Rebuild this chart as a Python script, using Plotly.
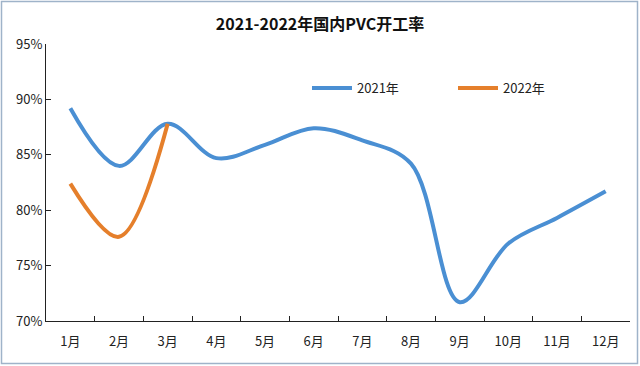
import plotly.graph_objects as go

months = ["1月", "2月", "3月", "4月", "5月", "6月", "7月", "8月", "9月", "10月", "11月", "12月"]
rate_2021 = [89.2, 84.0, 87.8, 84.7, 85.9, 87.4, 86.3, 84.2, 71.7, 77.0, 79.3, 81.7]
months_2022 = ["1月", "2月", "3月"]
rate_2022 = [82.4, 77.6, 87.8]
y_ticks = [70, 75, 80, 85, 90, 95]
y_labels = ["70%", "75%", "80%", "85%", "90%", "95%"]

W, H = 640, 366
ML, MR, MT, MB = 46, 10, 44, 45
pw, ph = W - ML - MR, H - MT - MB

font = "Noto Sans CJK SC"

fig = go.Figure()
fig.add_trace(go.Scatter(x=months, y=rate_2021, name="2021年", mode="lines",
                         line=dict(color="#4a8fd3", width=4, shape="spline", smoothing=1.0)))
fig.add_trace(go.Scatter(x=months_2022, y=rate_2022, name="2022年", mode="lines",
                         line=dict(color="#e57f2b", width=4, shape="spline", smoothing=1.0)))

fig.update_layout(
    width=W, height=H,
    margin=dict(l=ML, r=MR, t=MT, b=MB),
    paper_bgcolor="white", plot_bgcolor="white",
    font=dict(family=font, size=13, color="#222222"),
    title=dict(text="<b>2021-2022年国内PVC开工率</b>", x=0.5, xanchor="center",
               y=1 - 24 / H, yanchor="middle",
               font=dict(family=font, size=16, color="#111111")),
    showlegend=True,
    legend=dict(orientation="h", x=(307 - ML) / pw, xanchor="left",
                y=1 - (88 - MT) / ph, yanchor="middle",
                bgcolor="rgba(0,0,0,0)", font=dict(size=13, color="#222222"),
                entrywidth=91, entrywidthmode="pixels", itemwidth=40),
    xaxis=dict(type="category", categoryorder="array", categoryarray=months,
               range=[-0.5, 11.5], tickson="boundaries", ticks="inside", ticklen=5,
               tickcolor="#222222", showline=True, linecolor="#222222", linewidth=1,
               showgrid=False, zeroline=False, tickfont=dict(size=13), ticklabelstandoff=8),
    yaxis=dict(range=[70, 95], tickvals=y_ticks, ticktext=y_labels, ticks="inside",
               ticklen=5, tickcolor="#222222", showline=True, linecolor="#222222",
               linewidth=1, showgrid=False, zeroline=False, tickfont=dict(size=13)),
)

# outer chart border
fig.add_shape(type="rect", xref="paper", yref="paper",
              x0=(1.5 - ML) / pw, x1=(W - 2.5 - ML) / pw,
              y0=-(H - 2.5 - (H - MB)) / ph, y1=1 + (MT - 1.5) / ph,
              line=dict(color="#9fb3c9", width=1.5), layer="below")

fig.write_html("out.html")
